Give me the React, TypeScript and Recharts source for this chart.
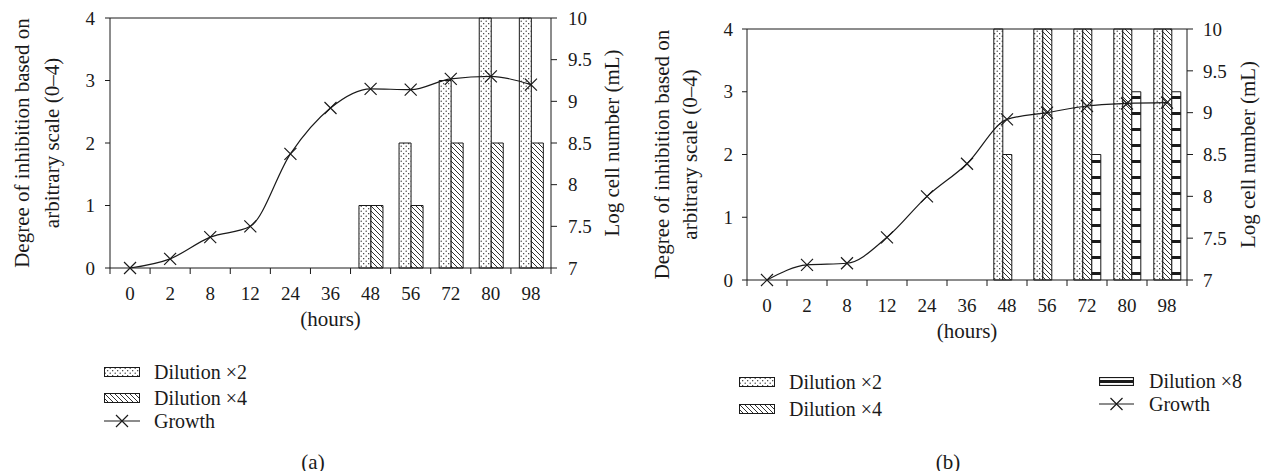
import React from "react"
import { ComposedChart, Bar, Line, XAxis, YAxis, ReferenceLine, Label } from "recharts"

const hours = ["0", "2", "8", "12", "24", "36", "48", "56", "72", "80", "98"]

// panel (a)
const dilution2A = [0, 0, 0, 0, 0, 0, 1, 2, 3, 4, 4]
const dilution4A = [0, 0, 0, 0, 0, 0, 1, 1, 2, 2, 2]
const growthA = [7.0, 7.11, 7.37, 7.5, 8.37, 8.92, 9.15, 9.14, 9.27, 9.3, 9.2]

// panel (b)
const dilution2B = [0, 0, 0, 0, 0, 0, 4, 4, 4, 4, 4]
const dilution4B = [0, 0, 0, 0, 0, 0, 2, 4, 4, 4, 4]
const dilution8B = [0, 0, 0, 0, 0, 0, 0, 0, 2, 3, 3]
const growthB = [7.0, 7.18, 7.2, 7.51, 8.0, 8.39, 8.92, 9.0, 9.08, 9.11, 9.12]

const leftTicks = [0, 1, 2, 3, 4]
const rightTicks = [7, 7.5, 8, 8.5, 9, 9.5, 10]

const dataA = hours.map((h, i) => ({ h, d2: dilution2A[i], d4: dilution4A[i], g: growthA[i] }))
const dataB = hours.map((h, i) => ({
  h,
  d2: dilution2B[i],
  d4: dilution4B[i],
  d8: dilution8B[i],
  g: growthB[i]
}))

const INK = "#1a1a1a"
const FONT = "'Liberation Serif', 'DejaVu Serif', serif"
const TICK_FS = 19
const LABEL_FS = 21

const Patterns = ({ id }: { id: string }) => (
  <defs>
    <pattern id={`dots-${id}`} patternUnits="userSpaceOnUse" width={5} height={5}>
      <rect width={5} height={5} fill="#fff" />
      <circle cx={1.2} cy={1.2} r={0.65} fill={INK} />
      <circle cx={3.7} cy={3.7} r={0.65} fill={INK} />
    </pattern>
    <pattern id={`hatch-${id}`} patternUnits="userSpaceOnUse" width={5} height={5}>
      <rect width={5} height={5} fill="#fff" />
      <path d="M0,0L5,5M-1,4L1,6M4,-1L6,1" stroke={INK} strokeWidth={0.9} />
    </pattern>
    <pattern id={`ladder-${id}`} patternUnits="userSpaceOnUse" width={10} height={16}>
      <rect width={10} height={16} fill="#fff" />
      <rect y={0} width={10} height={3} fill={INK} />
    </pattern>
  </defs>
)

const Cross = (props: any) => {
  const { cx, cy } = props
  if (cx == null || cy == null) return <g />
  const s = 6
  return (
    <path
      d={`M${cx - s},${cy - s}L${cx + s},${cy + s}M${cx - s},${cy + s}L${cx + s},${cy - s}`}
      stroke={INK}
      strokeWidth={1.2}
      fill="none"
    />
  )
}

const makeHourTick = (band: number, bottom: number) => (props: any) => {
  const { x, payload, index } = props
  return (
    <g>
      <line x1={x - band / 2} y1={bottom} x2={x - band / 2} y2={bottom + 6} stroke={INK} />
      {index === hours.length - 1 && (
        <line x1={x + band / 2} y1={bottom} x2={x + band / 2} y2={bottom + 6} stroke={INK} />
      )}
      <text x={x} y={bottom + 25} textAnchor="middle" dominantBaseline="central" fontSize={TICK_FS} fill={INK}>
        {payload.value}
      </text>
    </g>
  )
}

const makeLeftLabel = (x1: number, x2: number) => (props: any) => {
  const vb = props.viewBox
  const cy = vb.y + vb.height / 2
  return (
    <g fontSize={LABEL_FS} fill={INK}>
      <text x={x1} y={cy} transform={`rotate(-90 ${x1} ${cy})`} textAnchor="middle" dominantBaseline="central">
        Degree of inhibition based on
      </text>
      <text x={x2} y={cy} transform={`rotate(-90 ${x2} ${cy})`} textAnchor="middle" dominantBaseline="central">
        arbitrary scale (0–4)
      </text>
    </g>
  )
}

const makeRightLabel = (x: number) => (props: any) => {
  const vb = props.viewBox
  const cy = vb.y + vb.height / 2
  return (
    <text
      x={x}
      y={cy}
      transform={`rotate(-90 ${x} ${cy})`}
      textAnchor="middle"
      dominantBaseline="central"
      fontSize={LABEL_FS}
      fill={INK}
    >
      Log cell number (mL)
    </text>
  )
}

const Swatch = ({ fill, w = 36, h = 10 }: { fill: string; w?: number; h?: number }) => (
  <svg width={w} height={h} style={{ display: "block" }}>
    <rect x={0.5} y={0.5} width={w - 1} height={h - 1} fill={fill} stroke={INK} />
  </svg>
)

const LadderSwatch = ({ w = 35, h = 9 }: { w?: number; h?: number }) => (
  <svg width={w} height={h} style={{ display: "block" }}>
    <rect x={0.5} y={0.5} width={w - 1} height={h - 1} fill="#fff" stroke={INK} strokeWidth={1.2} />
    <rect x={0.5} y={h / 2 - 1.5} width={w - 1} height={3} fill={INK} />
  </svg>
)

const GrowthSwatch = ({ w = 36 }: { w?: number }) => (
  <svg width={w} height={14} style={{ display: "block" }}>
    <line x1={0} y1={7} x2={w} y2={7} stroke={INK} strokeWidth={1.2} />
    <path d={`M${w / 2 - 6},1L${w / 2 + 6},13M${w / 2 - 6},13L${w / 2 + 6},1`} stroke={INK} strokeWidth={1.2} />
  </svg>
)

const LegendRow = ({ left, top, swatch, text }: { left: number; top: number; swatch: React.ReactNode; text: string }) => (
  <div
    style={{
      position: "absolute",
      left,
      top: top - 9,
      height: 18,
      display: "flex",
      alignItems: "center",
      fontSize: 20,
      lineHeight: "18px",
      color: INK,
      whiteSpace: "nowrap"
    }}
  >
    <div style={{ width: 50 }}>{swatch}</div>
    <span>{text}</span>
  </div>
)

const App: React.FC = () => {
  return (
    <div
      style={{
        position: "absolute",
        left: 0,
        top: 0,
        width: 1262,
        height: 471,
        background: "#fff",
        fontFamily: FONT,
        color: INK
      }}
    >
      {/* panel (a) */}
      <div style={{ position: "absolute", left: 0, top: 0, width: 631, height: 471 }}>
        <ComposedChart
          width={631}
          height={471}
          data={dataA}
          margin={{ top: 18, right: 0, bottom: 143, left: 0 }}
          barGap={0}
          barCategoryGap="21%"
        >
          <Patterns id="a" />
          <XAxis
            dataKey="h"
            height={60}
            axisLine={{ stroke: INK }}
            tickLine={false}
            interval={0}
            tick={makeHourTick(441 / 11, 268)}
          >
            <Label value="(hours)" position="insideBottom" offset={2} fontSize={LABEL_FS} fill={INK} />
          </XAxis>
          <YAxis
            yAxisId="left"
            width={110}
            domain={[0, 4]}
            ticks={leftTicks}
            tickSize={5}
            tickMargin={10}
            axisLine={{ stroke: INK }}
            tickLine={{ stroke: INK }}
            tick={{ fontSize: TICK_FS, fill: INK }}
          >
            <Label content={makeLeftLabel(22, 52)} />
          </YAxis>
          <YAxis
            yAxisId="right"
            orientation="right"
            width={80}
            domain={[7, 10]}
            ticks={rightTicks}
            tickSize={6}
            tickMargin={11}
            axisLine={{ stroke: INK }}
            tickLine={{ stroke: INK }}
            tick={{ fontSize: TICK_FS, fill: INK, textAnchor: "start" }}
          >
            <Label content={makeRightLabel(612)} />
          </YAxis>
          <ReferenceLine yAxisId="left" y={4} stroke={INK} />
          <Bar yAxisId="left" dataKey="d2" fill="url(#dots-a)" stroke={INK} strokeWidth={1} isAnimationActive={false} />
          <Bar yAxisId="left" dataKey="d4" fill="url(#hatch-a)" stroke={INK} strokeWidth={1} isAnimationActive={false} />
          <Line
            yAxisId="right"
            type="monotone"
            dataKey="g"
            stroke={INK}
            strokeWidth={1.2}
            dot={<Cross />}
            activeDot={false}
            isAnimationActive={false}
          />
        </ComposedChart>
        <LegendRow left={104} top={372} swatch={<Swatch fill="url(#dots-a)" />} text="Dilution ×2" />
        <LegendRow left={104} top={398} swatch={<Swatch fill="url(#hatch-a)" />} text="Dilution ×4" />
        <LegendRow left={104} top={421} swatch={<GrowthSwatch />} text="Growth" />
        <div style={{ position: "absolute", left: 313, top: 462, transform: "translate(-50%,-50%)", fontSize: 21 }}>
          (a)
        </div>
      </div>

      {/* panel (b) */}
      <div style={{ position: "absolute", left: 631, top: 0, width: 631, height: 471 }}>
        <ComposedChart
          width={631}
          height={471}
          data={dataB}
          margin={{ top: 29, right: 0, bottom: 131, left: 0 }}
          barGap={0}
          barCategoryGap="17%"
        >
          <Patterns id="b" />
          <XAxis
            dataKey="h"
            height={60}
            axisLine={{ stroke: INK }}
            tickLine={false}
            interval={0}
            tick={makeHourTick(440 / 11, 280)}
          >
            <Label value="(hours)" position="insideBottom" offset={2} fontSize={LABEL_FS} fill={INK} />
          </XAxis>
          <YAxis
            yAxisId="left"
            width={116}
            domain={[0, 4]}
            ticks={leftTicks}
            tickSize={5}
            tickMargin={9}
            axisLine={{ stroke: INK }}
            tickLine={{ stroke: INK }}
            tick={{ fontSize: TICK_FS, fill: INK }}
          >
            <Label content={makeLeftLabel(31, 59)} />
          </YAxis>
          <YAxis
            yAxisId="right"
            orientation="right"
            width={75}
            domain={[7, 10]}
            ticks={rightTicks}
            tickSize={6}
            tickMargin={10}
            axisLine={{ stroke: INK }}
            tickLine={{ stroke: INK }}
            tick={{ fontSize: TICK_FS, fill: INK, textAnchor: "start" }}
          >
            <Label content={makeRightLabel(617)} />
          </YAxis>
          <ReferenceLine yAxisId="left" y={4} stroke={INK} />
          <Bar yAxisId="left" dataKey="d2" fill="url(#dots-b)" stroke={INK} strokeWidth={1} isAnimationActive={false} />
          <Bar yAxisId="left" dataKey="d4" fill="url(#hatch-b)" stroke={INK} strokeWidth={1} isAnimationActive={false} />
          <Bar yAxisId="left" dataKey="d8" fill="url(#ladder-b)" stroke={INK} strokeWidth={1} isAnimationActive={false} />
          <Line
            yAxisId="right"
            type="monotone"
            dataKey="g"
            stroke={INK}
            strokeWidth={1.2}
            dot={<Cross />}
            activeDot={false}
            isAnimationActive={false}
          />
        </ComposedChart>
        <LegendRow left={739 - 631} top={382} swatch={<Swatch fill="url(#dots-b)" />} text="Dilution ×2" />
        <LegendRow left={739 - 631} top={409} swatch={<Swatch fill="url(#hatch-b)" />} text="Dilution ×4" />
        <LegendRow left={1099 - 631} top={381} swatch={<LadderSwatch />} text="Dilution ×8" />
        <LegendRow left={1099 - 631} top={404} swatch={<GrowthSwatch w={35} />} text="Growth" />
        <div style={{ position: "absolute", left: 948 - 631, top: 462, transform: "translate(-50%,-50%)", fontSize: 21 }}>
          (b)
        </div>
      </div>
    </div>
  )
}

export default App
